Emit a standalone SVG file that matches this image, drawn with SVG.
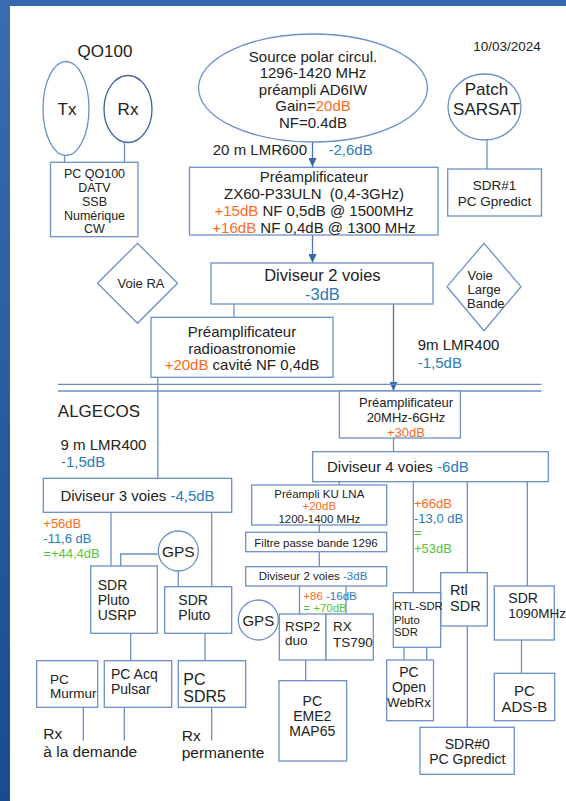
<svg xmlns="http://www.w3.org/2000/svg" width="566" height="801" viewBox="0 0 566 801">
<defs>
<linearGradient id="side" x1="0" y1="0" x2="0" y2="1">
<stop offset="0" stop-color="#3a6cb2"/>
<stop offset="1" stop-color="#1c4a90"/>
</linearGradient>
<marker id="arr" markerUnits="userSpaceOnUse" markerWidth="9" markerHeight="8" refX="9" refY="4" orient="auto">
<path d="M0,0 L9,4 L0,8 z" fill="#3b66a8"/>
</marker>
<style>
.box{fill:#fff;stroke:#6d8fc6;stroke-width:1.3}
.ln{fill:none;stroke:#6d8fc6;stroke-width:1.3}
.ar{fill:none;stroke:#4a74b4;stroke-width:1.3}
.t{font-family:"Liberation Sans",Arial,sans-serif;fill:#222}
.m{text-anchor:middle}
.o{fill:#ff6b22}
.b{fill:#2b7bba}
.g{fill:#56c43c}
</style>
</defs>
<rect x="0" y="0" width="566" height="801" fill="#fff"/>
<rect x="0" y="0" width="566" height="6" fill="#3568b0"/>
<rect x="0" y="0" width="10" height="801" fill="url(#side)"/>

<g id="connectors">
<line class="ln" x1="64.5" y1="155.5" x2="64.5" y2="162.3"/>
<line class="ln" x1="124.5" y1="142.5" x2="124.5" y2="162.3"/>
<line class="ar" x1="312.5" y1="142" x2="312.5" y2="167" marker-end="url(#arr)"/>
<line class="ln" x1="487" y1="140" x2="487" y2="169"/>
<line class="ar" x1="312.5" y1="235" x2="312.5" y2="263" marker-end="url(#arr)"/>
<line class="ln" x1="234" y1="304" x2="234" y2="317.3"/>
<line class="ar" x1="393.5" y1="304" x2="393.5" y2="391" marker-end="url(#arr)"/>
<line class="ln" x1="157.8" y1="377.3" x2="157.8" y2="478.3"/>
<line class="ln" x1="57.8" y1="384.3" x2="541.5" y2="384.3"/>
<line class="ln" x1="57.8" y1="391" x2="541.5" y2="391"/>
<line class="ln" x1="393.5" y1="438" x2="393.5" y2="451.7"/>
<line class="ln" x1="111" y1="512.3" x2="111" y2="566"/>
<line class="ln" x1="211.7" y1="512.3" x2="211.7" y2="586.7"/>
<polyline class="ln" points="157.5,554 120.7,554 120.7,566"/>
<line class="ln" x1="178.3" y1="570.5" x2="178.3" y2="586.7"/>
<line class="ln" x1="339.3" y1="481.7" x2="339.3" y2="485"/>
<line class="ln" x1="413.3" y1="481.7" x2="413.3" y2="592.7"/>
<line class="ln" x1="467.3" y1="481.7" x2="467.3" y2="572.7"/>
<line class="ln" x1="527.3" y1="481.7" x2="527.3" y2="586"/>
<line class="ln" x1="319.3" y1="525" x2="319.3" y2="532.3"/>
<line class="ln" x1="319.3" y1="551.7" x2="319.3" y2="566.7"/>
<line class="ln" x1="299.5" y1="586" x2="299.5" y2="614"/>
<line class="ln" x1="346" y1="586" x2="346" y2="614"/>
<line class="ln" x1="305.7" y1="660" x2="305.7" y2="680.7"/>
<line class="ln" x1="404" y1="647.3" x2="404" y2="660"/>
<line class="ln" x1="426.7" y1="647.3" x2="426.7" y2="660"/>
<line class="ln" x1="467.3" y1="626" x2="467.3" y2="727.3"/>
<line class="ln" x1="521.5" y1="640" x2="521.5" y2="673.3"/>
<line class="ln" x1="130.7" y1="633.3" x2="130.7" y2="660.7"/>
<line class="ln" x1="205" y1="633.3" x2="205" y2="660.7"/>
<line class="ln" x1="83.3" y1="707.3" x2="83.3" y2="740.7"/>
<line class="ln" x1="124.3" y1="707.3" x2="124.3" y2="740.7"/>
<line class="ln" x1="211.7" y1="707.3" x2="211.7" y2="740.7"/>
</g>

<g id="labels">
<text class="t m" x="105" y="57" font-size="17">QO100</text>
<text class="t m" x="507" y="51" font-size="13.5">10/03/2024</text>
<text class="t" x="307" y="155" font-size="15" text-anchor="end">20 m LMR600</text>
<text class="t b" x="328.5" y="155" font-size="15">-2,6dB</text>
<text class="t" x="417.7" y="350" font-size="15">9m LMR400</text>
<text class="t b" x="417.7" y="367.5" font-size="15">-1,5dB</text>
<text class="t" x="57.8" y="417" font-size="17">ALGECOS</text>
<text class="t" x="60.6" y="449.5" font-size="15">9 m LMR400</text>
<text class="t b" x="61" y="467" font-size="15">-1,5dB</text>
<text class="t o" x="43.3" y="528" font-size="13">+56dB</text>
<text class="t b" x="43.3" y="543" font-size="13">-11,6 dB</text>
<text class="t g" x="43.3" y="557.5" font-size="13">=+44,4dB</text>
<text class="t o" x="414" y="507.5" font-size="13">+66dB</text>
<text class="t b" x="414" y="523" font-size="13">-13,0 dB</text>
<text class="t g" x="414" y="537" font-size="13">=</text>
<text class="t g" x="414" y="553" font-size="13">+53dB</text>
<text class="t" x="303.3" y="600" font-size="11.5"><tspan class="o">+86</tspan> <tspan class="b">-16dB</tspan></text>
<text class="t g" x="303.3" y="612" font-size="11.5">= +70dB</text>
<text class="t" x="43.3" y="739" font-size="15.5">Rx</text>
<text class="t" x="43.3" y="756.5" font-size="15.5">à la demande</text>
<text class="t" x="181.7" y="741" font-size="15.5">Rx</text>
<text class="t" x="181.7" y="758" font-size="15.5">permanente</text>
</g>

<g id="tx">
<ellipse class="box" cx="66" cy="108.5" rx="23" ry="47"/>
<text class="t m" x="67" y="115" font-size="17">Tx</text>
</g>
<g id="rx">
<ellipse cx="128" cy="109" rx="24" ry="33.5" fill="#fff" stroke="#3d5f9c" stroke-width="1.3"/>
<text class="t m" x="128" y="115" font-size="17">Rx</text>
</g>
<g id="source">
<ellipse class="box" cx="313" cy="88" rx="114.5" ry="54"/>
<text class="t m" x="313" y="61.5" font-size="15">Source polar circul.</text>
<text class="t m" x="313" y="78" font-size="15">1296-1420 MHz</text>
<text class="t m" x="313" y="94.5" font-size="15">préampli AD6IW</text>
<text class="t m" x="313" y="111" font-size="15">Gain=<tspan class="o">20dB</tspan></text>
<text class="t m" x="313" y="128" font-size="15">NF=0.4dB</text>
</g>
<g id="patch">
<ellipse class="box" cx="484.5" cy="107" rx="36.5" ry="33"/>
<text class="t m" x="486.5" y="94.5" font-size="17">Patch</text>
<text class="t m" x="486.5" y="114.5" font-size="17">SARSAT</text>
</g>
<g id="pcqo100">
<rect class="box" x="50.5" y="162.3" width="87.5" height="74.4"/>
<text class="t m" x="94.5" y="178" font-size="12.5">PC QO100</text>
<text class="t m" x="94.5" y="192" font-size="12.5">DATV</text>
<text class="t m" x="94.5" y="205.5" font-size="12.5">SSB</text>
<text class="t m" x="94.5" y="219.5" font-size="12.5">Numérique</text>
<text class="t m" x="94.5" y="233" font-size="12.5">CW</text>
</g>
<g id="preamp1">
<rect class="box" x="189.5" y="167.3" width="248.5" height="67.7"/>
<text class="t m" x="314" y="181.5" font-size="15">Préamplificateur</text>
<text class="t m" x="314" y="198.5" font-size="15">ZX60-P33ULN&#160; (0,4-3GHz)</text>
<text class="t m" x="314" y="216" font-size="15"><tspan class="o">+15dB</tspan> NF 0,5dB @ 1500MHz</text>
<text class="t m" x="314" y="232.5" font-size="15"><tspan class="o">+16dB</tspan> NF 0,4dB @ 1300 MHz</text>
</g>
<g id="sdr1">
<rect class="box" x="447.7" y="169" width="93.8" height="47"/>
<text class="t m" x="494.6" y="190" font-size="13.5">SDR#1</text>
<text class="t m" x="494.6" y="206" font-size="13.5">PC Gpredict</text>
</g>
<g id="voiera">
<polygon class="box" points="137.5,243.3 177.5,283.3 137.5,323.3 97.5,283.3"/>
<text class="t m" x="141" y="288" font-size="13">Voie RA</text>
</g>
<g id="div2">
<rect class="box" x="211" y="263" width="222" height="41"/>
<text class="t m" x="322.4" y="281" font-size="16.5">Diviseur 2 voies</text>
<text class="t m b" x="322.4" y="300" font-size="16.5">-3dB</text>
</g>
<g id="voielb">
<polygon class="box" points="484,243.3 521,286.7 484,330.7 447,286.7"/>
<text class="t" x="467.5" y="279.5" font-size="13">Voie</text>
<text class="t" x="467.5" y="294" font-size="13">Large</text>
<text class="t" x="467" y="308" font-size="13">Bande</text>
</g>
<g id="preampra">
<rect class="box" x="151" y="317.3" width="182" height="60"/>
<text class="t m" x="242" y="337" font-size="15">Préamplificateur</text>
<text class="t m" x="242" y="353.5" font-size="15">radioastronomie</text>
<text class="t m" x="242" y="370" font-size="15"><tspan class="o">+20dB</tspan> cavité NF 0,4dB</text>
</g>
<g id="preamp20">
<rect class="box" x="339.4" y="391" width="121" height="47"/>
<text class="t m" x="406" y="406.5" font-size="13">Préamplificateur</text>
<text class="t m" x="406" y="422" font-size="13">20MHz-6GHz</text>
<text class="t m o" x="406" y="436.5" font-size="13">+30dB</text>
</g>
<g id="div4">
<rect class="box" x="312.7" y="451.7" width="235.6" height="30"/>
<text class="t" x="327" y="472" font-size="15">Diviseur 4 voies <tspan class="b">-6dB</tspan></text>
</g>
<g id="div3">
<rect class="box" x="43.3" y="478.3" width="188.4" height="34"/>
<text class="t m" x="137.5" y="501" font-size="15">Diviseur 3 voies <tspan class="b">-4,5dB</tspan></text>
</g>
<g id="gps1">
<circle class="box" cx="178.3" cy="551" r="20"/>
<text class="t m" x="178.3" y="557" font-size="15.5">GPS</text>
</g>
<g id="plutousrp">
<rect class="box" x="90.7" y="566" width="66.6" height="67.3"/>
<text class="t" x="97.7" y="589.5" font-size="14">SDR</text>
<text class="t" x="97.7" y="604.5" font-size="14">Pluto</text>
<text class="t" x="97.7" y="619.5" font-size="14">USRP</text>
</g>
<g id="pluto">
<rect class="box" x="164.7" y="586.7" width="67" height="46.6"/>
<text class="t" x="178.3" y="605" font-size="14">SDR</text>
<text class="t" x="178.3" y="620" font-size="14">Pluto</text>
</g>
<g id="kulna">
<rect class="box" x="251.7" y="485" width="135" height="40"/>
<text class="t m" x="319.3" y="498" font-size="11.5">Préampli KU LNA</text>
<text class="t m o" x="319.3" y="509.5" font-size="11.5">+20dB</text>
<text class="t m" x="319.3" y="522.5" font-size="11.5">1200-1400 MHz</text>
</g>
<g id="filtre">
<rect class="box" x="245.7" y="532.3" width="141" height="19.4"/>
<text class="t m" x="316" y="546.5" font-size="11.5">Filtre passe bande 1296</text>
</g>
<g id="div2b">
<rect class="box" x="245.7" y="566.7" width="141" height="19.3"/>
<text class="t m" x="313" y="579.5" font-size="11.5">Diviseur 2 voies <tspan class="b">-3dB</tspan></text>
</g>
<g id="gps2">
<circle class="box" cx="258.3" cy="620" r="20"/>
<text class="t m" x="258.3" y="626" font-size="15">GPS</text>
</g>
<g id="rsp2">
<rect class="box" x="279.3" y="614" width="46.7" height="46"/>
<text class="t" x="285" y="630.5" font-size="13.5">RSP2</text>
<text class="t" x="285" y="645" font-size="13.5">duo</text>
</g>
<g id="ts790">
<rect class="box" x="326" y="614" width="47.3" height="46"/>
<text class="t" x="333" y="630.5" font-size="13.5">RX</text>
<text class="t" x="333" y="646.5" font-size="13.5">TS790</text>
</g>
<g id="eme2">
<rect class="box" x="279" y="680.7" width="67.7" height="80.3"/>
<text class="t m" x="312.3" y="705.5" font-size="14">PC</text>
<text class="t m" x="312.3" y="721" font-size="14">EME2</text>
<text class="t m" x="312.3" y="736" font-size="14">MAP65</text>
</g>
<g id="rtlsdr">
<rect class="box" x="440.7" y="572.7" width="46.6" height="53.3"/>
<text class="t" x="450" y="595" font-size="14.5">Rtl</text>
<text class="t" x="450" y="611" font-size="14.5">SDR</text>
</g>
<g id="rtlpluto">
<rect class="box" x="393.3" y="592.7" width="47.4" height="54.6"/>
<text class="t" x="394" y="610" font-size="11.3">RTL-SDR</text>
<text class="t" x="394" y="623.5" font-size="11.3">Pluto</text>
<text class="t" x="394" y="636" font-size="11.3">SDR</text>
</g>
<g id="sdr1090">
<rect class="box" x="494.3" y="586" width="60" height="54"/>
<text class="t" x="508.3" y="603" font-size="14">SDR</text>
<text class="t" x="508.3" y="618" font-size="13.5">1090MHz</text>
</g>
<g id="webrx">
<rect class="box" x="386.7" y="660" width="46.8" height="60.7"/>
<text class="t m" x="409" y="677" font-size="14">PC</text>
<text class="t m" x="409" y="692" font-size="14">Open</text>
<text class="t m" x="409" y="706.5" font-size="13.5">WebRx</text>
</g>
<g id="sdr0">
<rect class="box" x="420" y="727.3" width="94.3" height="47"/>
<text class="t m" x="467.3" y="749" font-size="14">SDR#0</text>
<text class="t m" x="467.3" y="763.5" font-size="14">PC Gpredict</text>
</g>
<g id="adsb">
<rect class="box" x="494.3" y="673.3" width="60.4" height="47.4"/>
<text class="t m" x="524.3" y="695.5" font-size="15">PC</text>
<text class="t m" x="524.3" y="711.5" font-size="15">ADS-B</text>
</g>
<g id="murmur">
<rect class="box" x="36.7" y="660.7" width="61" height="46.6"/>
<text class="t" x="50" y="683.5" font-size="13.5">PC</text>
<text class="t" x="50" y="697.5" font-size="13.5">Murmur</text>
</g>
<g id="pulsar">
<rect class="box" x="104.3" y="660.7" width="67.4" height="46.6"/>
<text class="t" x="111" y="678.5" font-size="14">PC Acq</text>
<text class="t" x="111" y="693.5" font-size="14">Pulsar</text>
</g>
<g id="sdr5">
<rect class="box" x="178.3" y="660.7" width="67.4" height="46.6"/>
<text class="t" x="183.3" y="685" font-size="16">PC</text>
<text class="t" x="183.3" y="702" font-size="16">SDR5</text>
</g>
</svg>
